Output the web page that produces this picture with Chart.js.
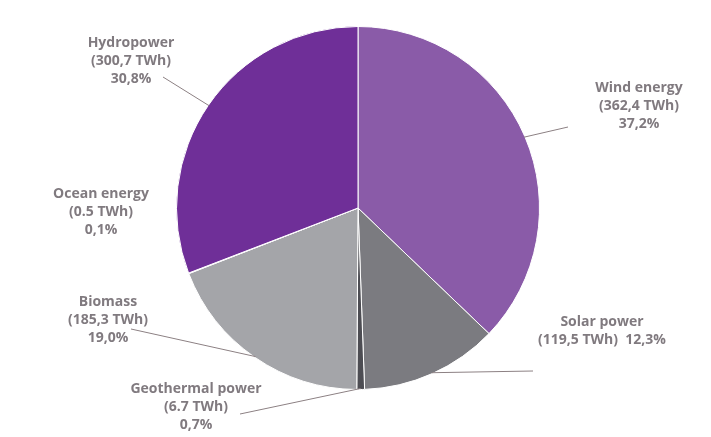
<!DOCTYPE html>
<html>
<head>
<meta charset="utf-8">
<script src="https://cdn.jsdelivr.net/npm/chart.js@4.4.0/dist/chart.umd.min.js"></script>
<style>
  html, body { margin: 0; padding: 0; background: #fff; }
  #wrap { width: 711px; height: 437px; }
</style>
</head>
<body>
<div id="wrap"><canvas id="pie" width="711" height="437"></canvas></div>
<script>
// Renewable electricity by source (clockwise from 12 o'clock)
const sources = ["Wind energy", "Solar power", "Geothermal power", "Biomass", "Ocean energy", "Hydropower"];
const twh = [362.4, 119.5, 6.7, 185.3, 0.5, 300.7];
const twhLabels = ["362,4 TWh", "119,5 TWh", "6.7 TWh", "185,3 TWh", "0.5 TWh", "300,7 TWh"];
const shares = ["37,2%", "12,3%", "0,7%", "19,0%", "0,1%", "30,8%"];
const colors = ["#8a5ba8", "#7b7b80", "#4d4d53", "#a4a5a9", "#a4a5a9", "#6f2f98"];

// label layout: text centre x, first line y, leader end (null = no leader)
const labelLayout = [
  { x: 639, y: 88, lines: 3, lead: [568, 127] },
  { x: 602, y: 322, lines: 2, lead: [533, 371] },
  { x: 196, y: 389, lines: 3, lead: [240, 414] },
  { x: 108, y: 302, lines: 3, lead: [131, 329] },
  { x: 101, y: 194, lines: 3, lead: null },
  { x: 131, y: 43, lines: 3, lead: [163, 77] }
];

const labelPlugin = {
  id: "outerLabels",
  afterDatasetsDraw(chart) {
    const ctx = chart.ctx;
    const arcs = chart.getDatasetMeta(0).data;
    ctx.save();
    arcs.forEach((arc, i) => {
      const L = labelLayout[i];
      if (L.lead) {
        const mid = (arc.startAngle + arc.endAngle) / 2;
        const sx = arc.x + Math.cos(mid) * (arc.outerRadius - 1);
        const sy = arc.y + Math.sin(mid) * (arc.outerRadius - 1);
        ctx.strokeStyle = "#8c8083";
        ctx.lineWidth = 1;
        ctx.beginPath();
        ctx.moveTo(sx, sy);
        ctx.lineTo(L.lead[0], L.lead[1]);
        ctx.stroke();
      }
      ctx.fillStyle = "#807a7f";
      ctx.font = "bold 14px 'Open Sans', sans-serif";
      ctx.textAlign = "center";
      ctx.textBaseline = "middle";
      let txt;
      if (L.lines === 2) {
        txt = [sources[i], "(" + twhLabels[i] + ")  " + shares[i]];
      } else {
        txt = [sources[i], "(" + twhLabels[i] + ")", shares[i]];
      }
      txt.forEach((t, k) => ctx.fillText(t, L.x, L.y + k * 18));
    });
    ctx.restore();
  }
};

new Chart(document.getElementById("pie"), {
  type: "pie",
  data: {
    labels: sources,
    datasets: [{
      data: twh,
      backgroundColor: colors,
      borderColor: "#ffffff",
      borderWidth: 1
    }]
  },
  options: {
    responsive: false,
    animation: false,
    layout: { padding: { left: 176, right: 171, top: 26, bottom: 47 } },
    plugins: {
      legend: { display: false },
      tooltip: { enabled: false }
    }
  },
  plugins: [labelPlugin]
});
</script>
</body>
</html>
